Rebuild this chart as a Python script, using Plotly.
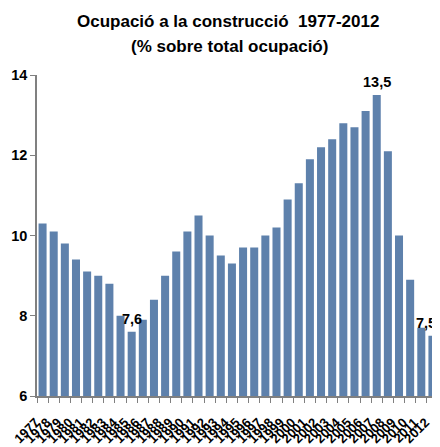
import plotly.graph_objects as go

years = [str(y) for y in range(1977, 2013)]
values = [10.3, 10.1, 9.8, 9.4, 9.1, 9.0, 8.8, 8.0, 7.6, 7.9,
          8.4, 9.0, 9.6, 10.1, 10.5, 10.0, 9.5, 9.3, 9.7, 9.7,
          10.0, 10.2, 10.9, 11.3, 11.9, 12.2, 12.4, 12.8, 12.7, 13.1,
          13.5, 12.1, 10.0, 8.9, 7.7, 7.5]
labelled = {"1985": "7,6", "2007": "13,5", "2012": "7,5"}
title_lines = ["Ocupació a la construcció  1977-2012", "(% sobre total ocupació)"]

font = "Liberation Sans, Arial, sans-serif"

fig = go.Figure(go.Bar(x=years, y=values, marker=dict(color="#5E81AC", line=dict(width=0))))

for yr, txt in labelled.items():
    i = years.index(yr)
    v = values[i]
    fig.add_annotation(x=i, y=v, text="<b>%s</b>" % txt, showarrow=False,
                       yanchor="bottom", yshift=3,
                       xanchor="right" if yr == "2012" else "center",
                       xshift=6 if yr == "2012" else 0,
                       font=dict(family=font, size=14.5, color="black"))

for k, (line, py) in enumerate(zip(title_lines, [1.168, 1.090])):
    fig.add_annotation(xref="paper", yref="paper", x=0.476 + 0.004 * k, y=py,
                       text="<b>%s</b>" % line, showarrow=False,
                       xanchor="center", yanchor="middle",
                       font=dict(family=font, size=17, color="black"))

fig.update_layout(
    width=432, height=439,
    margin=dict(l=29, r=2, t=67, b=51, autoexpand=False),
    paper_bgcolor="white", plot_bgcolor="white",
    bargap=0.28,
    showlegend=False,
    xaxis=dict(type="category", range=[-0.5, 35.5], tickangle=-45, tickson="boundaries",
               tickmode="linear", tick0=0, dtick=1, automargin=False,
               ticks="outside", ticklen=5, tickcolor="#808080",
               ticklabelstandoff=12, ticklabelshift=-7,
               showline=True, linecolor="#808080", linewidth=1.5,
               showgrid=False,
               tickfont=dict(family=font, size=13, color="black", weight="bold")),
    yaxis=dict(range=[6, 14], dtick=2, ticks="outside", ticklen=5, tickcolor="#808080",
               automargin=False,
               showline=True, linecolor="#808080", linewidth=1.5,
               showgrid=False, zeroline=False,
               tickfont=dict(family=font, size=14.5, color="black", weight="bold")),
)

fig.write_html("out.html")
